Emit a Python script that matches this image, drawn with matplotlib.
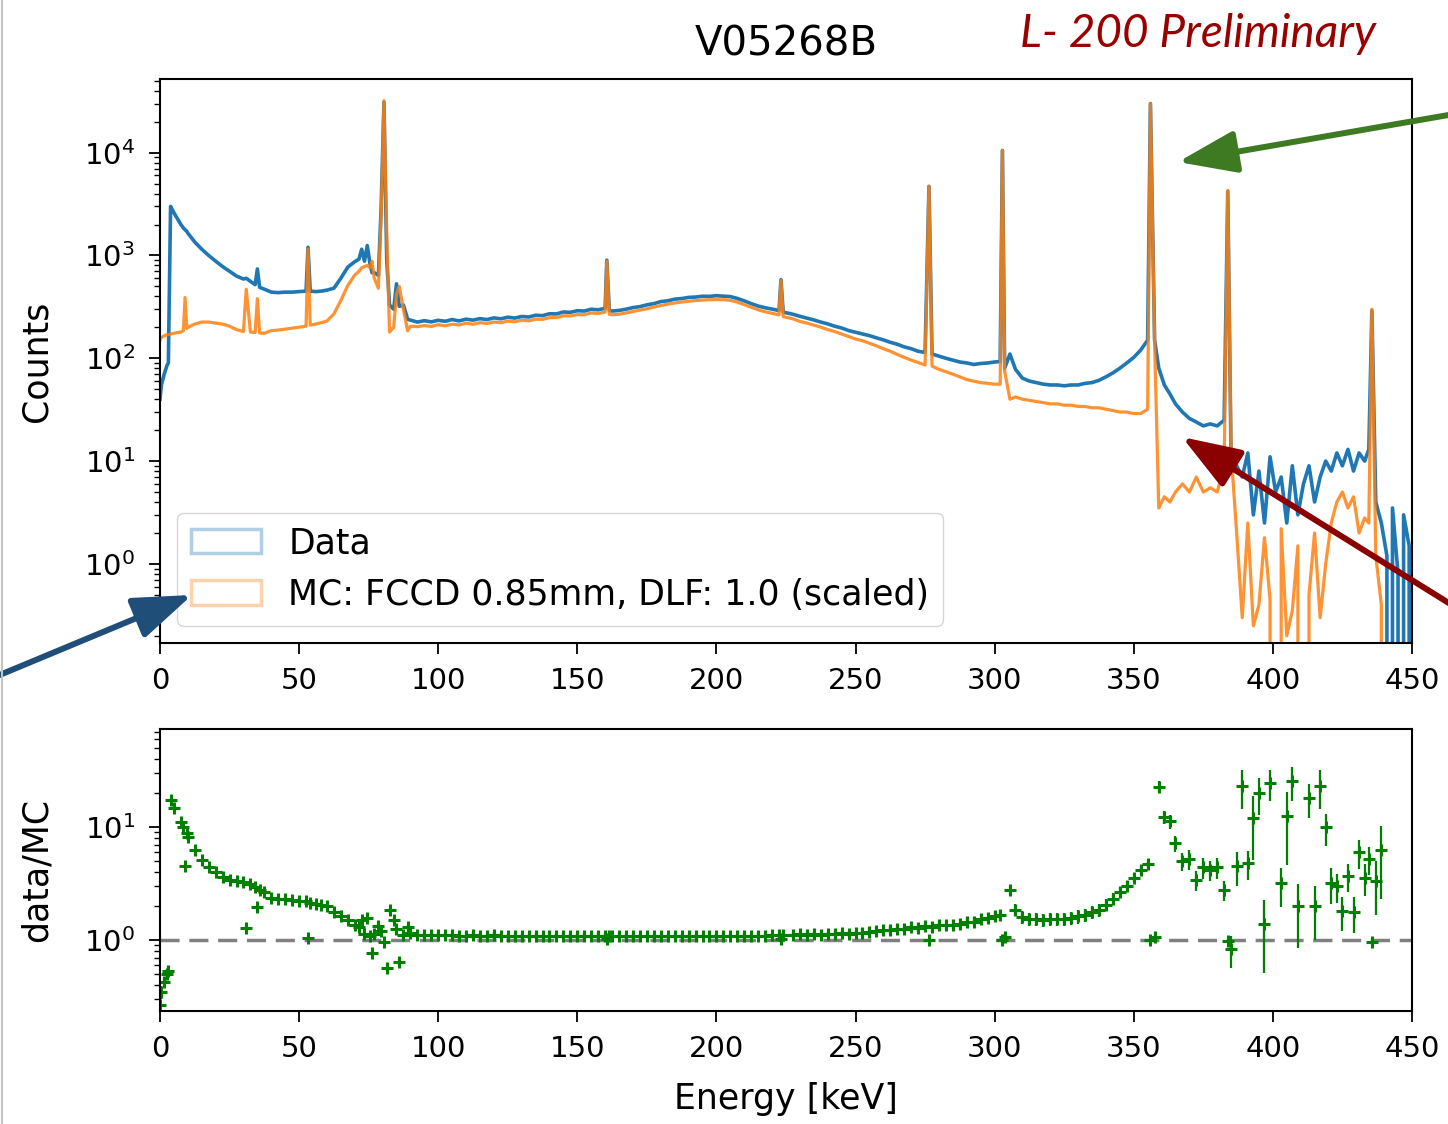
import numpy as np
import matplotlib
matplotlib.use("Agg")
import matplotlib.pyplot as plt
from matplotlib.patches import Patch, FancyArrowPatch
from matplotlib.lines import Line2D

# energy nodes [keV] (one line per region)
energy_kev = (
    [0, 0.5, 1.5, 2.5, 3.0, 3.8, 5, 7.5, 8.4, 9, 9.6, 10]
    + [12.5, 15, 17.5, 20, 22.5, 25, 27.5, 30, 31, 32.5, 34.2, 35, 35.8, 37.5]
    + [40, 42.5, 45, 47.5, 50, 52.5, 53.2, 54, 56, 58, 60, 62.5]
    + [65, 67.5, 70, 71.5, 72.5, 73.5, 74.5, 75.5, 76.2, 77, 78.5, 79.5, 80.5,
       81.5, 82.5, 84, 85, 86, 87.5, 89]
    + [90, 92.5, 95, 97.5, 100, 102.5, 105, 107.5, 110, 112.5, 115, 117.5, 120,
       122.5, 125, 127.5, 130, 132.5, 135, 137.5, 140, 142.5, 145, 147.5, 150,
       152.5, 155, 157.5, 160, 160.6, 161.5, 162.5]
    + [165, 167.5, 170, 172.5, 175, 177.5, 180, 182.5, 185, 187.5, 190, 192.5,
       195, 197.5, 200, 202.5, 205, 207.5, 210, 212.5, 215, 217.5, 220, 222.5,
       223.2, 224]
    + [227.5, 230, 232.5, 235, 237.5, 240, 242.5, 245, 247.5, 250, 252.5, 255,
       257.5, 260, 262.5, 265, 267.5, 270, 272.5, 275, 276.4, 277.5, 280, 282.5,
       285, 287.5, 290, 292.5, 295, 297.5, 300, 302, 302.8, 303.6]
    + [305.5, 307.5, 310, 312.5, 315, 317.5, 320, 322.5, 325, 327.5, 330, 332.5,
       335, 337.5, 340, 342.5, 345, 347.5, 350, 352.5, 355, 356, 357.5]
    + [359, 361, 363, 365, 367.5, 370, 372.5, 375, 377.5, 380, 382.5, 383.8, 385]
    + [387, 389, 391, 393, 395, 397, 399, 401, 403, 405, 407, 409, 411, 413,
       415, 417, 419, 421, 423, 425, 427, 429, 431, 433, 434.5, 435.6, 437]
    + [439, 441, 442, 443, 445, 446, 447, 449, 450]
)

# measured counts (blue)
data_counts = (
    [40, 55, 70, 85, 90, 3000, 2600, 2000, 1850, 1780, 1720, 1650]
    + [1350, 1150, 1000, 880, 780, 700, 630, 590, 600, 560, 520, 740, 490, 470]
    + [440, 435, 440, 440, 445, 450, 1200, 450, 445, 450, 460, 480]
    + [600, 770, 870, 920, 1150, 880, 1250, 820, 680, 680, 640, 3000, 31000,
       900, 330, 300, 530, 320, 330, 240]
    + [235, 225, 232, 226, 234, 229, 238, 231, 240, 235, 243, 238, 247,
       242, 251, 246, 255, 252, 262, 260, 271, 270, 282, 280, 290,
       288, 300, 296, 306, 900, 292, 288]
    + [292, 300, 311, 318, 331, 340, 356, 362, 376, 381, 391, 394,
       401, 400, 406, 402, 398, 382, 362, 340, 322, 310, 301, 291,
       580, 281]
    + [268, 256, 246, 236, 225, 216, 205, 197, 186, 179, 172, 166,
       158, 151, 143, 137, 129, 124, 117, 114, 4700, 110, 105, 100,
       96, 92, 90, 87, 89, 90, 92, 93, 10500, 80]
    + [110, 78, 64, 60, 58, 56, 55, 55, 54, 55, 55, 57,
       58, 61, 66, 72, 80, 90, 102, 120, 150, 30000, 150]
    + [80, 55, 45, 36, 30, 26, 24, 22, 23, 22, 25, 4200, 10]
    + [9, 7, 12, 3, 8, 2.5, 11, 5, 7, 2.5, 9, 3, 6, 9,
       4, 7, 10, 8, 12, 9, 13, 8, 12, 10, 13, 290, 4]
    + [2.5, 1.2, 0, 3.5, 0.8, 0, 3.0, 1.5, 0]
)

# scaled MC counts (orange)
mc_counts = (
    [150, 160, 165, 170, 170, 172, 175, 180, 185, 390, 195, 200]
    + [215, 225, 225, 220, 215, 205, 190, 182, 470, 180, 178, 380, 176, 175]
    + [186, 188, 192, 196, 200, 205, 1150, 210, 215, 222, 230, 270]
    + [365, 510, 645, 700, 760, 780, 800, 760, 880, 600, 480, 2500, 32000,
       1600, 180, 200, 420, 500, 300, 185]
    + [205, 203, 208, 204, 212, 207, 214, 211, 219, 214, 222, 218, 225,
       222, 230, 226, 235, 231, 240, 239, 248, 249, 259, 258, 266,
       265, 276, 272, 282, 880, 268, 265]
    + [268, 276, 285, 294, 303, 314, 326, 336, 345, 352, 358, 364,
       368, 371, 372, 371, 366, 352, 332, 313, 296, 283, 274, 264,
       570, 254]
    + [242, 228, 220, 210, 201, 190, 182, 172, 163, 154, 148, 140,
       132, 124, 117, 109, 102, 96, 91, 86, 4700, 84, 78, 74,
       70, 66, 62, 60, 58, 57, 56, 56, 10500, 75]
    + [40, 42, 40, 39, 38, 37, 36, 36, 35, 35, 34, 34,
       33, 33, 32, 31, 30, 30, 29, 29, 32, 30000, 140]
    + [3.5, 4.5, 4.0, 5.0, 6.0, 5.0, 7.0, 5.0, 5.5, 5.0, 9.0, 4300, 12]
    + [2.0, 0.3, 2.5, 0.25, 0.4, 1.8, 0.45, 0, 2.2, 0.2, 0.35, 1.5, 0, 0.5,
       2.0, 0.3, 1.0, 2.5, 4.0, 5.0, 3.5, 4.5, 2.0, 2.8, 2.5, 300, 1.2]
    + [0.4, 0, 0, 0, 0, 0, 0, 0, 0]
)

x_ticks = [0, 50, 100, 150, 200, 250, 300, 350, 400, 450]
labels = ["Data", "MC: FCCD 0.85mm, DLF: 1.0 (scaled)"]

e = np.array(energy_kev, dtype=float)
d = np.array(data_counts, dtype=float)
m = np.array(mc_counts, dtype=float)

# ratio with poisson error of the data, only where both are filled
ok = (d > 0) & (m > 0)
ratio = d[ok] / m[ok]
err = ratio / np.sqrt(d[ok])

fig = plt.figure(figsize=(14.48, 11.24), dpi=100)
ax1 = fig.add_axes([0.1105, 0.4279, 0.8646, 0.5018])
ax2 = fig.add_axes([0.1105, 0.1005, 0.8646, 0.2509])

# top: spectra
ax1.plot(e, d, color="#1f77b4", lw=2.6)
ax1.plot(e, m, color="#ff7f0e", lw=2.3, alpha=0.85)
ax1.set_yscale("log")
ax1.set_ylim(0.17, 52000)
ax1.set_xlim(0, 450)
ax1.set_ylabel("Counts", fontsize=25, labelpad=22)
ax1.set_title("V05268B", fontsize=29, pad=17)

handles = [Patch(facecolor="none", edgecolor="#1f77b4", lw=2.5, alpha=0.35),
           Patch(facecolor="none", edgecolor="#ff7f0e", lw=2.5, alpha=0.35)]
ax1.legend(handles, labels, loc="lower left", fontsize=25)

# bottom: data / MC
ax2.axhline(1, color="gray", ls="--", lw=2.5, dashes=(5.5, 2.8), zorder=1.5)
ax2.errorbar(e[ok], ratio, yerr=[err, err], fmt="+", color="g",
             ms=8, mew=2.2, elinewidth=1.6)
ax2.set_yscale("log")
ax2.set_ylim(0.235, 74)
ax2.set_xlim(0, 450)
ax2.set_ylabel("data/MC", fontsize=25, labelpad=22)
ax2.set_xlabel("Energy [keV]", fontsize=25, labelpad=14)

for ax in (ax1, ax2):
    ax.set_xticks(x_ticks)
    ax.tick_params(which="major", labelsize=21, length=8, width=1.3)
    ax.tick_params(axis="x", pad=9)
    ax.tick_params(axis="y", pad=10)
    ax.tick_params(which="minor", length=4.5, width=1.0)
    for s in ax.spines.values():
        s.set_linewidth(1.5)

fig.text(1020 / 1448, 1 - 47 / 1124, "L- 200 Preliminary", fontsize=33,
         family=["Lato", "DejaVu Sans"], style="italic", color="#990000",
         ha="left", va="baseline")

# annotation arrows (figure inches)
arrows = [((14.60, 10.11), (11.78, 9.62), "#3d7a22"),
          ((14.60, 5.14), (11.82, 6.87), "#8b0000"),
          ((-0.10, 4.45), (1.92, 5.29), "#1f4e79")]
for tail, tip, col in arrows:
    fig.add_artist(FancyArrowPatch(tail, tip, transform=fig.dpi_scale_trans,
                                   arrowstyle="-|>,head_length=1.8,head_width=0.65",
                                   mutation_scale=20, lw=4.3, color=col,
                                   shrinkA=0, shrinkB=0))

fig.add_artist(Line2D([1.5 / 1448, 1.5 / 1448], [0, 1], transform=fig.transFigure,
                      color="#c4c4c4", lw=1.5))

fig.savefig("out.png", dpi=100)
